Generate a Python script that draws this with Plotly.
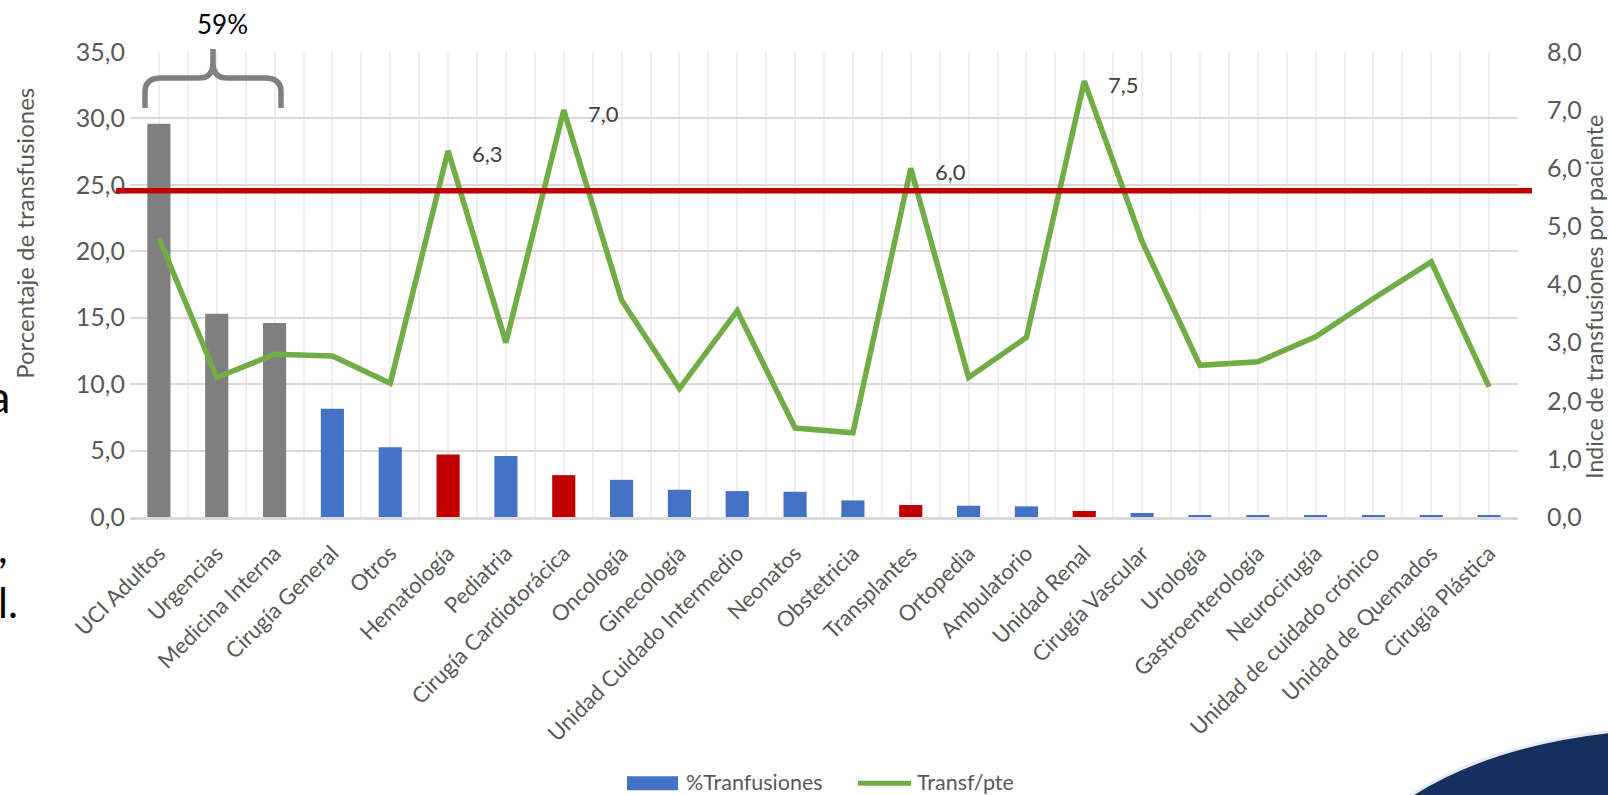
import plotly.graph_objects as go

# ---------------- data ----------------
categories = ["UCI Adultos", "Urgencias", "Medicina Interna", "Cirugía General", "Otros",
              "Hematología", "Pediatria", "Cirugía Cardiotorácica", "Oncología", "Ginecología",
              "Unidad Cuidado Intermedio", "Neonatos", "Obstetricia", "Transplantes", "Ortopedia",
              "Ambulatorio", "Unidad Renal", "Cirugía Vascular", "Urología", "Gastroenterología",
              "Neurocirugía", "Unidad de cuidado crónico", "Unidad de Quemados", "Cirugía Plástica"]
pct_transfusiones = [29.6, 15.3, 14.6, 8.15, 5.25, 4.7, 4.6, 3.15, 2.8, 2.05, 1.95, 1.9,
                     1.25, 0.9, 0.85, 0.8, 0.45, 0.3, 0.15, 0.15, 0.15, 0.15, 0.12, 0.1]
transf_por_paciente = [4.8, 2.4, 2.8, 2.77, 2.3, 6.3, 3.0, 7.0, 3.73, 2.21, 3.55, 1.53,
                       1.45, 6.0, 2.4, 3.09, 7.5, 4.74, 2.61, 2.67, 3.1, 3.76, 4.39, 2.24]
grupo_59 = ["UCI Adultos", "Urgencias", "Medicina Interna"]
destacados = ["Hematología", "Cirugía Cardiotorácica", "Transplantes", "Unidad Renal"]
umbral_pct = 24.55
left_ticks = [0, 5, 10, 15, 20, 25, 30, 35]
right_ticks = [0, 1, 2, 3, 4, 5, 6, 7, 8]
texto_grupo = "59%"
legend_names = ["%Tranfusiones", "Transf/pte"]
titulo_izq = "Porcentaje de transfusiones"
titulo_der = "Indice de transfusiones por paciente"

# ---------------- layout helpers ----------------
W, H = 1608, 795
L, R, T, B = 130, 90, 52, 277.5
PW, PH = W - L - R, H - T - B
BOTTOM = T + PH


def px(x):
    return (x - L) / PW


def py(y):
    return (BOTTOM - y) / PH


def P(x, y):
    return f"{px(x):.5f},{py(y):.5f}"


FONT = "Lato"
GRAY = "#595959"
BLUE = "#4472C4"
RED = "#C00000"
DGRAY = "#7F7F7F"
GREEN = "#70AD47"

xs = list(range(len(categories)))
bar_colors = [DGRAY if c in grupo_59 else RED if c in destacados else BLUE for c in categories]

fig = go.Figure()
fig.add_trace(go.Bar(x=xs, y=pct_transfusiones, marker=dict(color=bar_colors, line=dict(width=0)),
                     width=0.4, showlegend=False, name=legend_names[0]))
fig.add_trace(go.Scatter(x=xs, y=transf_por_paciente, yaxis="y2", mode="lines",
                         line=dict(color=GREEN, width=5.5), showlegend=False, name=legend_names[1]))

left_max = left_ticks[-1]
right_max = right_ticks[-1]
umbral_right = umbral_pct * right_max / left_max

annotations = []
for i, v in enumerate(transf_por_paciente):
    if v > umbral_right:
        annotations.append(dict(x=i, y=v, xref="x", yref="y2", text=f"{v:.1f}".replace(".", ","),
                                showarrow=False, xanchor="left", yanchor="middle", xshift=22, yshift=-3,
                                font=dict(family=FONT, size=22, color="#404040")))


def pa(x, y, text, size, color=GRAY, xanchor="center", angle=0, align="center"):
    return dict(x=px(x), y=py(y), xref="paper", yref="paper", text=text, showarrow=False,
                xanchor=xanchor, yanchor="middle", textangle=angle, align=align,
                font=dict(family=FONT, size=size, color=color))


annotations += [
    pa(222, 24, texto_grupo, 26, "#000000"),
    pa(25, 234, titulo_izq, 24, angle=-90),
    pa(1594, 297, titulo_der, 23, angle=-90),
    pa(684, 783, legend_names[0], 21.5, xanchor="left"),
    pa(915, 783, legend_names[1], 21.5, xanchor="left"),
    pa(12, 396, "a", 45, "#000000", xanchor="right"),
    pa(-4, 575, ",<br>l.", 42, "#000000", xanchor="left", align="left"),
]

brace = (f"M {P(145,108)} L {P(145,92)} Q {P(145,78)} {P(161,78)} L {P(199,78)} "
         f"Q {P(213,78)} {P(213,63)} L {P(213,49)} M {P(213,63)} Q {P(213,78)} {P(227,78)} "
         f"L {P(265,78)} Q {P(281,78)} {P(281,92)} L {P(281,108)}")
navy = f"M {P(1405,800)} Q {P(1485,746)} {P(1612,732)} L {P(1612,800)} Z"

shapes = [
    dict(type="line", xref="paper", yref="paper", x0=px(116), x1=px(1532),
         y0=umbral_pct / left_max, y1=umbral_pct / left_max, line=dict(color=RED, width=5.5), layer="above"),
    dict(type="path", xref="paper", yref="paper", path=brace, line=dict(color="#808080", width=5.5),
         layer="above"),
    dict(type="rect", xref="paper", yref="paper", x0=px(627), x1=px(678), y0=py(791), y1=py(777),
         fillcolor=BLUE, line=dict(width=0)),
    dict(type="line", xref="paper", yref="paper", x0=px(858), x1=px(911), y0=py(784), y1=py(784),
         line=dict(color=GREEN, width=5)),
    dict(type="path", xref="paper", yref="paper", path=navy, fillcolor="#15305D",
         line=dict(color="#E4EAF3", width=3)),
]

fig.update_layout(
    width=W, height=H,
    margin=dict(l=L, r=R, t=T, b=B, pad=0),
    paper_bgcolor="white", plot_bgcolor="white",
    separators=",.",
    font=dict(family=FONT, color=GRAY),
    bargap=0.6,
    xaxis=dict(range=[-0.5, len(categories) - 0.5], tickmode="array", tickvals=xs, ticktext=categories,
               tickangle=-45, tickfont=dict(family=FONT, size=22, color=GRAY),
               showgrid=True, gridcolor="#EFEFEF", gridwidth=1.5,
               minor=dict(tick0=-0.5, dtick=1, showgrid=True, gridcolor="#EFEFEF", gridwidth=1.5, ticks=""),
               showline=True, linecolor="#D9D9D9", linewidth=2.5, zeroline=False, ticks="",
               ticklabelstandoff=12, fixedrange=True),
    yaxis=dict(range=[0, left_max], tickmode="array", tickvals=left_ticks, tickformat=".1f",
               tickfont=dict(family=FONT, size=25, color=GRAY), showgrid=True, gridcolor="#D9D9D9",
               gridwidth=2, zeroline=False, ticks="", ticklabelstandoff=4),
    yaxis2=dict(range=[0, right_max], overlaying="y", side="right", tickmode="array",
                tickvals=right_ticks, tickformat=".1f", tickfont=dict(family=FONT, size=25, color=GRAY),
                showgrid=False, zeroline=False, ticks="", ticklabelstandoff=28),
    annotations=annotations,
    shapes=shapes,
)

fig.write_html("out.html")
